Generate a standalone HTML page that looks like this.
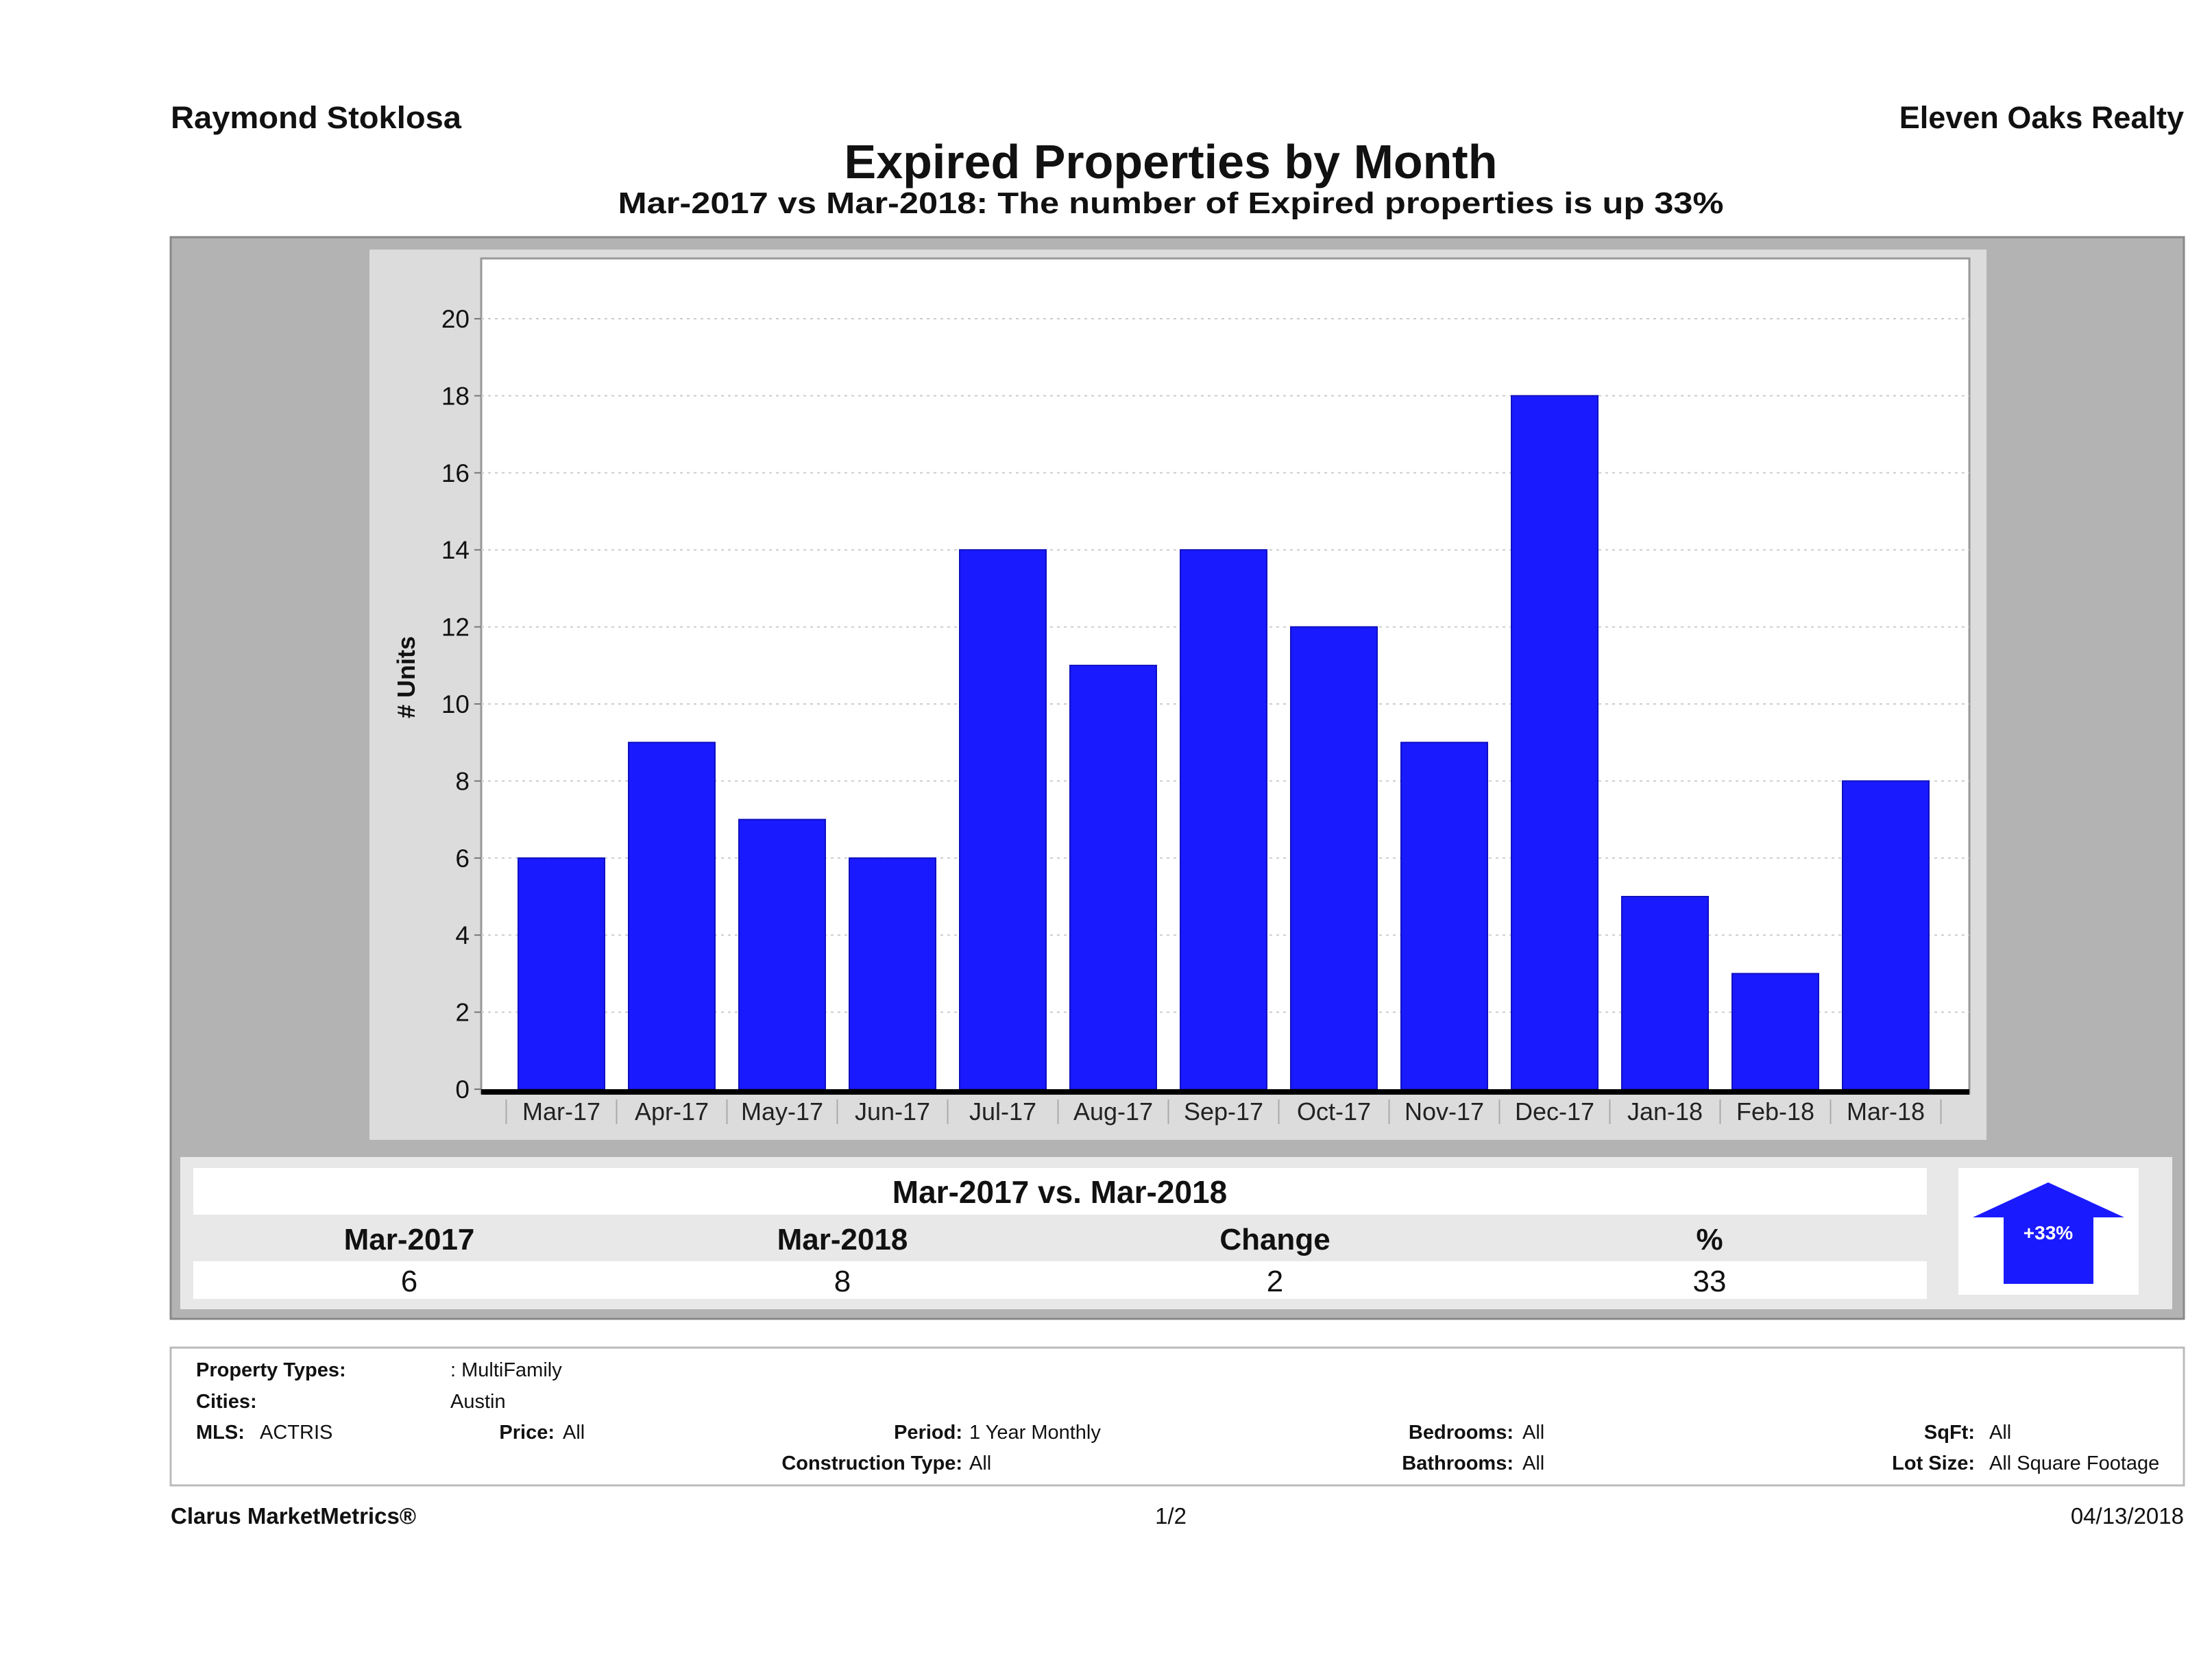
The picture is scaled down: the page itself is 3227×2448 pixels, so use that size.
<!DOCTYPE html>
<html><head><meta charset="utf-8"><style>
html,body{margin:0;padding:0;background:#fff;}
svg{display:block;font-family:"Liberation Sans","DejaVu Sans",sans-serif;}
</style></head><body>
<svg id="page" width="3227" height="2448" viewBox="0 0 3227 2448" xmlns="http://www.w3.org/2000/svg">
<rect width="3227" height="2448" fill="#fff"/>
<text x="249" y="187" font-size="45" font-weight="bold" fill="#111" textLength="424" lengthAdjust="spacingAndGlyphs">Raymond Stoklosa</text>
<text x="3186" y="187" font-size="45" font-weight="bold" fill="#111" text-anchor="end">Eleven Oaks Realty</text>
<text x="1708" y="260" font-size="70" font-weight="bold" fill="#111" text-anchor="middle">Expired Properties by Month</text>
<text x="1708" y="311" font-size="44" font-weight="bold" fill="#111" text-anchor="middle" textLength="1613" lengthAdjust="spacingAndGlyphs">Mar-2017 vs Mar-2018: The number of Expired  properties is up 33%</text>

<rect x="249" y="346" width="2937" height="1578" fill="#b3b3b3" stroke="#888" stroke-width="3"/>
<rect x="539" y="364" width="2359" height="1299" fill="#dcdcdc"/>
<rect x="702" y="377" width="2171" height="1218" fill="#fff" stroke="#999" stroke-width="3"/>
<g id="grid"></g>
<g id="bars"></g>
<g id="axes"></g>
<text transform="translate(605,988) rotate(-90)" font-size="36" font-weight="bold" fill="#111" text-anchor="middle"># Units</text>

<rect x="263" y="1688" width="2906" height="222" fill="#e8e8e8"/>
<rect x="282" y="1704" width="2529" height="68" fill="#fff"/>
<text x="1546" y="1755" font-size="46" font-weight="bold" fill="#111" text-anchor="middle">Mar-2017 vs. Mar-2018</text>
<rect x="282" y="1840" width="2529" height="55" fill="#fff"/>
<g font-size="44" fill="#111" text-anchor="middle">
<text x="597" y="1823" font-weight="bold">Mar-2017</text>
<text x="1229" y="1823" font-weight="bold">Mar-2018</text>
<text x="1860" y="1823" font-weight="bold">Change</text>
<text x="2494" y="1823" font-weight="bold">%</text>
<text x="597" y="1884">6</text>
<text x="1229" y="1884">8</text>
<text x="1860" y="1884">2</text>
<text x="2494" y="1884">33</text>
</g>
<rect x="2857" y="1704" width="263" height="185" fill="#fff"/>
<polygon points="2988,1725 3099,1776 3054,1776 3054,1873 2923,1873 2923,1776 2878,1776" fill="#1a1aff"/>
<text x="2988" y="1808" font-size="28" font-weight="bold" fill="#fff" text-anchor="middle">+33%</text>

<rect x="249" y="1966" width="2937" height="201" fill="#fff" stroke="#bbb" stroke-width="3"/>
<g font-size="29" fill="#111">
<text x="286" y="2008" font-weight="bold">Property Types:</text>
<text x="657" y="2008">: MultiFamily</text>
<text x="286" y="2054" font-weight="bold">Cities:</text>
<text x="657" y="2054">Austin</text>
<text x="286" y="2099" font-weight="bold">MLS:</text>
<text x="379" y="2099">ACTRIS</text>
<text x="809" y="2099" font-weight="bold" text-anchor="end">Price:</text>
<text x="821" y="2099">All</text>
<text x="1404" y="2099" font-weight="bold" text-anchor="end">Period:</text>
<text x="1414" y="2099">1 Year Monthly</text>
<text x="2208" y="2099" font-weight="bold" text-anchor="end">Bedrooms:</text>
<text x="2221" y="2099">All</text>
<text x="2881" y="2099" font-weight="bold" text-anchor="end">SqFt:</text>
<text x="2902" y="2099">All</text>
<text x="1404" y="2144" font-weight="bold" text-anchor="end">Construction Type:</text>
<text x="1414" y="2144">All</text>
<text x="2208" y="2144" font-weight="bold" text-anchor="end">Bathrooms:</text>
<text x="2221" y="2144">All</text>
<text x="2881" y="2144" font-weight="bold" text-anchor="end">Lot Size:</text>
<text x="2902" y="2144">All Square Footage</text>
</g>
<text x="249" y="2223" font-size="33" font-weight="bold" fill="#111">Clarus MarketMetrics®</text>
<text x="1708" y="2223" font-size="33" fill="#111" text-anchor="middle">1/2</text>
<text x="3186" y="2223" font-size="33" fill="#111" text-anchor="end">04/13/2018</text>
</svg>
<script>
const categories = ["Mar-17","Apr-17","May-17","Jun-17","Jul-17","Aug-17","Sep-17","Oct-17","Nov-17","Dec-17","Jan-18","Feb-18","Mar-18"];
const expiredValues = [6,9,7,6,14,11,14,12,9,18,5,3,8];
const yTicks = [0,2,4,6,8,10,12,14,16,18,20];

const NS = "http://www.w3.org/2000/svg";
const plotL = 702, plotR = 2873, y0 = 1589, pxPerUnit = 56.2;
const firstCenter = 819, step = 161, barW = 126;
function yScale(v){ return y0 - v * pxPerUnit; }
function xScale(i){ return firstCenter + i * step; }
function mk(tag, attrs){ const e = document.createElementNS(NS, tag); for (const k in attrs) e.setAttribute(k, attrs[k]); return e; }

const grid = document.getElementById('grid');
const axes = document.getElementById('axes');
const bars = document.getElementById('bars');

yTicks.forEach(t => {
  const y = yScale(t);
  if (t > 0) {
    const g = mk('line', {x1: plotL, x2: plotR, y1: y, y2: y, stroke: '#ccc', 'stroke-width': 2, 'stroke-dasharray': '4,6'});
    
    
    grid.appendChild(g);
  }
  const tk = mk('line', {x1: plotL - 10, x2: plotL, y1: y, y2: y, stroke: '#777', 'stroke-width': 2});
  
  
  axes.appendChild(tk);
  const lb = mk('text', {x: 685, y: y + 13, 'font-size': 37, fill: '#111', 'text-anchor': 'end'});
  lb.textContent = t;
  
  
  axes.appendChild(lb);
});

categories.forEach((c, i) => {
  const cx = xScale(i);
  const v = expiredValues[i];
  const r = mk('rect', {x: cx - barW/2, y: yScale(v), width: barW, height: v * pxPerUnit, fill: '#1a1aff', stroke: '#1010c0', 'stroke-width': 2});
  
  
  bars.appendChild(r);
  const lb = mk('text', {x: cx, y: 1634, 'font-size': 36, fill: '#222', 'text-anchor': 'middle'});
  lb.textContent = c;
  
  
  axes.appendChild(lb);
  const sep = mk('line', {x1: cx - step/2, x2: cx - step/2, y1: 1604, y2: 1640, stroke: '#aaa', 'stroke-width': 2});
  
  
  axes.appendChild(sep);
});
const lastSep = mk('line', {x1: xScale(categories.length - 1) + step/2, x2: xScale(categories.length - 1) + step/2, y1: 1604, y2: 1640, stroke: '#aaa', 'stroke-width': 2});


axes.appendChild(lastSep);

const base = mk('line', {x1: plotL, x2: plotR, y1: y0 + 4, y2: y0 + 4, stroke: '#000', 'stroke-width': 8});


axes.appendChild(base);
</script>
</body></html>
